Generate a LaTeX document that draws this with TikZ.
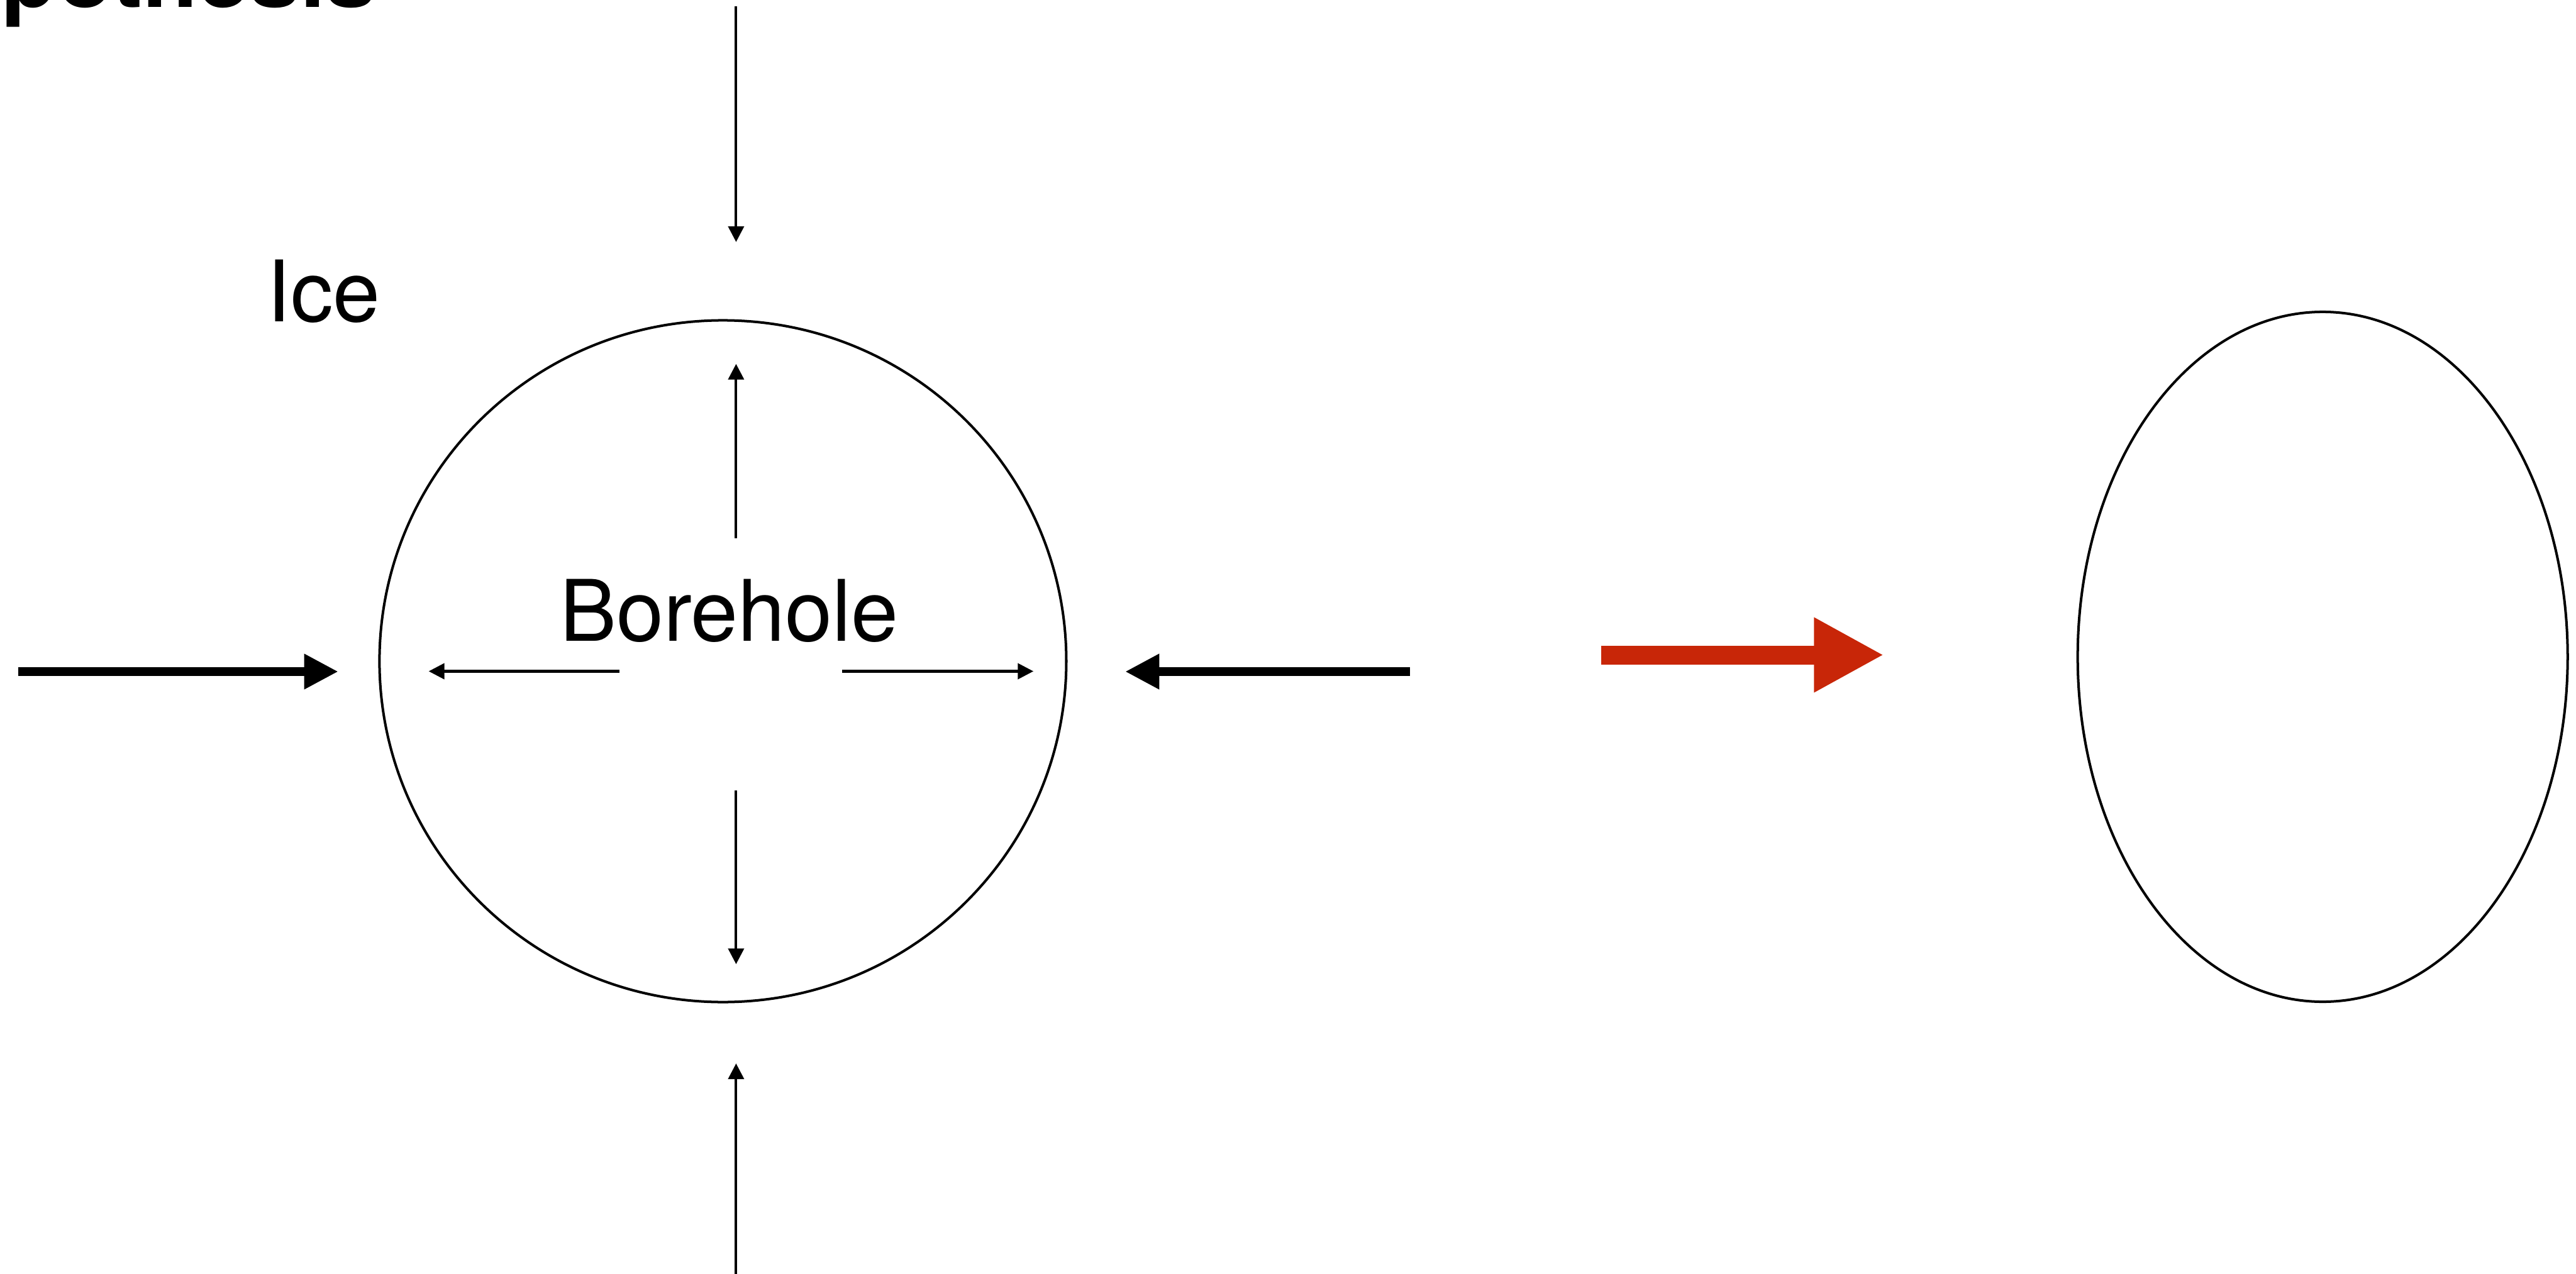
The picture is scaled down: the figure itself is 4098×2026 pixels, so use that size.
\documentclass[tikz,border=0pt]{standalone}
\usepackage{fontspec}
\setmainfont{TeX Gyre Heros}
\usetikzlibrary{arrows.meta,shapes.geometric}
\definecolor{redarrow}{RGB}{200,38,8}
\tikzset{
  thinarrow/.style={line width=1.14pt, -{Triangle[length=7.1pt,width=7.1pt]}},
  bigarrow/.style={line width=3.7pt, -{Triangle[length=15.4pt,width=15.1pt]}},
  redbig/.style={draw=redarrow, line width=8.54pt, -{Triangle[length=31.6pt,width=31.6pt]}},
  outline/.style={draw, line width=1.14pt, inner sep=0pt, outer sep=0pt, ellipse},
  lbl/.style={font=\fontsize{38.4}{46}\selectfont, inner sep=0pt},
}
\begin{document}
\begin{tikzpicture}[x=0.01cm,y=-0.01cm]
\useasboundingbox (0,0) rectangle (4098,2026);
% title (cropped at top of page)
\node[font=\fontsize{41.3}{50}\selectfont\bfseries, inner sep=0pt, anchor=base east] (title) at (599,11) {Hypothesis};
% labels
\node[lbl, anchor=base west] (ice) at (424,512) {Ice};
% borehole outline and deformed outline
\node[outline, minimum width=10.92cm, minimum height=10.84cm] (hole) at (1150,1052) {};
\node[outline, minimum width=7.79cm, minimum height=10.97cm] (deformed) at (3695,1045) {};
\node[lbl, anchor=base] (bh) at (1160,1020) {Borehole};
% coordinates for arrows
\coordinate (topS) at (1171,10);    \coordinate (topE) at (1171,385);
\coordinate (upS) at (1171,856);    \coordinate (upE) at (1171,579);
\coordinate (dnS) at (1171,1258);   \coordinate (dnE) at (1171,1534);
\coordinate (botS) at (1171,2030);  \coordinate (botE) at (1171,1692);
\coordinate (lS) at (985,1068);     \coordinate (lE) at (682,1068);
\coordinate (rS) at (1340,1068);    \coordinate (rE) at (1644,1068);
\coordinate (bigLS) at (29,1068.5); \coordinate (bigLE) at (538,1068.5);
\coordinate (bigRS) at (2243,1068.5); \coordinate (bigRE) at (1790,1068.5);
\coordinate (redS) at (2547,1042);  \coordinate (redE) at (2997,1042);
% arrows
\draw[thinarrow] (topS) -- (topE);
\draw[thinarrow] (upS) -- (upE);
\draw[thinarrow] (dnS) -- (dnE);
\draw[thinarrow] (botS) -- (botE);
\draw[thinarrow] (lS) -- (lE);
\draw[thinarrow] (rS) -- (rE);
\draw[bigarrow] (bigLS) -- (bigLE);
\draw[bigarrow] (bigRS) -- (bigRE);
\draw[redbig] (redS) -- (redE);
\end{tikzpicture}
\end{document}
